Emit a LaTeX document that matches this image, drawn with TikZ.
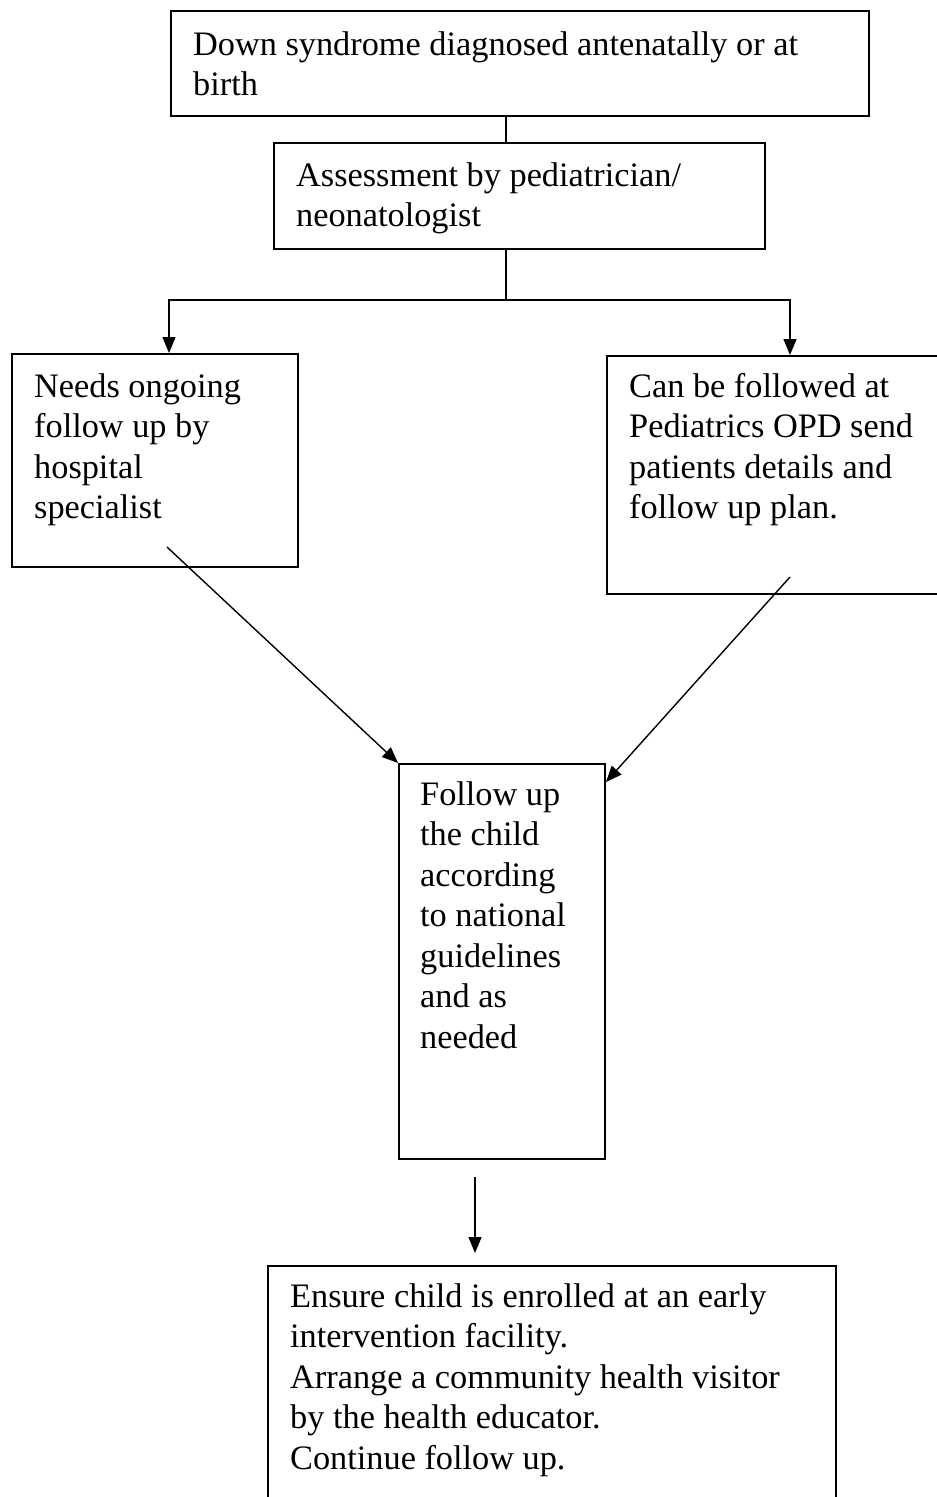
\documentclass[tikz,border=0pt]{standalone}
\usepackage{fontspec}
\setmainfont{Liberation Serif}
\usetikzlibrary{arrows.meta}
\tikzset{
  box/.style={draw=black, line width=1.8pt, rectangle, inner sep=0pt, anchor=north west},
  boxtext/.style={anchor=base west, inner sep=0pt, font=\fontsize{34.3}{40.5}\selectfont},
  link/.style={draw=black, line width=1.4pt},
  arrowlink/.style={link, -{Triangle[length=16pt,width=13pt]}}
}
\newcommand{\linesbox}[2]{\parbox[t]{#1}{\raggedright #2}}
\begin{document}
\begin{tikzpicture}[x=1pt, y=-1pt]
\useasboundingbox (0,0) rectangle (937,1497);
% boxes
\node[box, minimum width=698pt, minimum height=105pt] (b1) at (170,10) {};
\node[box, minimum width=491pt, minimum height=106pt] (b2) at (273,142) {};
\node[box, minimum width=286pt, minimum height=213pt] (b3) at (11,353) {};
\node[box, minimum width=344pt, minimum height=238pt] (b4) at (606,355) {};
\node[box, minimum width=206pt, minimum height=395pt] (b5) at (398,763) {};
\node[box, minimum width=568pt, minimum height=250pt] (b6) at (267,1265) {};
% texts
\node[boxtext] (t1) at (193,55) {\linesbox{690pt}{Down syndrome diagnosed antenatally or at\\ birth}};
\node[boxtext] (t2) at (296,186) {\linesbox{480pt}{Assessment by pediatrician/\\ neonatologist}};
\node[boxtext] (t3) at (34,397) {\linesbox{280pt}{Needs ongoing\\ follow up by\\ hospital\\ specialist}};
\node[boxtext] (t4) at (629,397) {\linesbox{320pt}{Can be followed at\\ Pediatrics OPD send\\ patients details and\\ follow up plan.}};
\node[boxtext] (t5) at (420,805) {\linesbox{200pt}{Follow up\\ the child\\ according\\ to national\\ guidelines\\ and as\\ needed}};
\node[boxtext] (t6) at (290,1307) {\linesbox{560pt}{Ensure child is enrolled at an early\\ intervention facility.\\ Arrange a community health visitor\\ by the health educator.\\ Continue follow up.}};
% helper coordinates
\coordinate (v) at (506,0);
\coordinate (j) at (506,300);
\coordinate (lx) at (169,0);
\coordinate (rx) at (790,0);
\coordinate (s3) at (167,547);
\coordinate (s4) at (790,577);
\coordinate (e5r) at (606,782);
\coordinate (d1) at (475,1177);
\coordinate (d2) at (475,1253);
% connectors
\draw[link] (b1.south -| v) -- (b2.north -| v);
\draw[link] (b2.south -| v) -- (j);
\draw[arrowlink] (j) -| (b3.north -| lx);
\draw[arrowlink] (j) -| (b4.north -| rx);
\draw[arrowlink] (s3) -- (b5.north west);
\draw[arrowlink] (s4) -- (e5r);
\draw[arrowlink] (d1) -- (d2);
\end{tikzpicture}
\end{document}
